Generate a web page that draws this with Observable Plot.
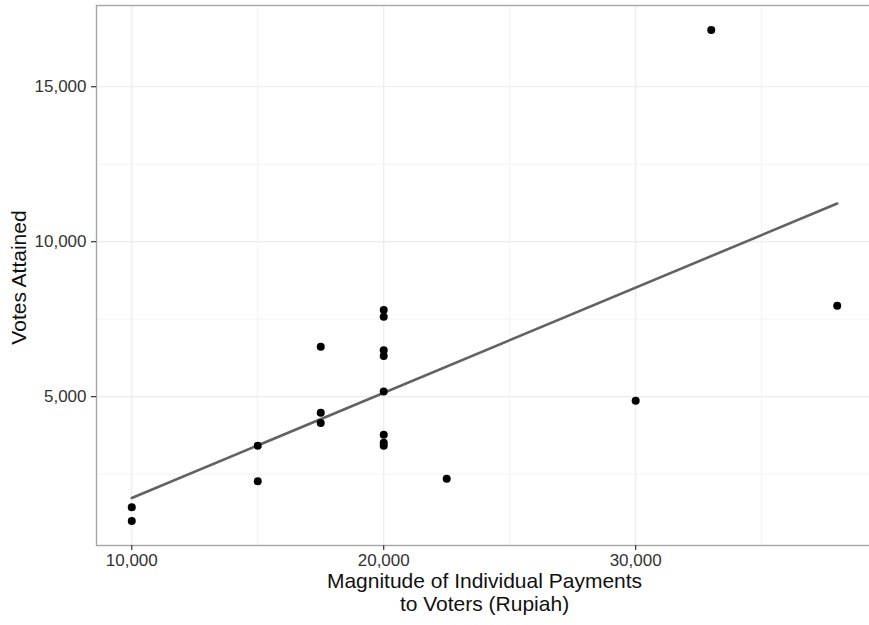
<!DOCTYPE html>
<html>
<head>
<meta charset="utf-8">
<script src="https://cdn.jsdelivr.net/npm/d3@7"></script>
<script src="https://cdn.jsdelivr.net/npm/@observablehq/plot@0.6"></script>
<style>
html, body { margin: 0; padding: 0; background: #fff; overflow: hidden; }
#chart { width: 869px; height: 625px; overflow: hidden; }
#chart svg { max-width: none !important; }
</style>
</head>
<body>
<div id="chart"></div>
<script>
// Data
const payments = [10000, 10000, 15000, 15000, 17500, 17500, 17500,
                  20000, 20000, 20000, 20000, 20000, 20000, 20000, 20000,
                  22500, 30000, 33000, 38000];
const votes = [1430, 990, 3420, 2270, 6610, 4480, 4150,
               7800, 7580, 6500, 6310, 5170, 3770, 3510, 3420,
               2350, 4870, 16830, 7930];

const xMajorTicks = [10000, 20000, 30000];
const xMinorTicks = [15000, 25000, 35000];
const yMajorTicks = [5000, 10000, 15000];
const yMinorTicks = [2500, 7500, 12500];

const xTitleLines = ["Magnitude of Individual Payments", "to Voters (Rupiah)"];
const yTitle = "Votes Attained";

const data = payments.map((p, i) => ({payment: p, votes: votes[i]}));
const fmt = d3.format(",");
const font = "'Liberation Sans', Arial, Helvetica, sans-serif";

const chart = Plot.plot({
  width: 872,
  height: 625,
  marginLeft: 96,
  marginRight: 0,
  marginTop: 5,
  marginBottom: 80,
  style: {fontFamily: font, background: "#fff", maxWidth: "none"},
  x: {domain: [8600, 39400]},
  y: {domain: [198, 17621]},
  marks: [
    Plot.gridX(xMinorTicks, {stroke: "#f3f3f3", strokeOpacity: 1, strokeWidth: 1}),
    Plot.gridY(yMinorTicks, {stroke: "#f3f3f3", strokeOpacity: 1, strokeWidth: 1}),
    Plot.gridX(xMajorTicks, {stroke: "#ebebeb", strokeOpacity: 1, strokeWidth: 1.2}),
    Plot.gridY(yMajorTicks, {stroke: "#ebebeb", strokeOpacity: 1, strokeWidth: 1.2}),
    Plot.frame({stroke: "#a6a6a6", strokeWidth: 1.4}),
    Plot.linearRegressionY(data, {x: "payment", y: "votes", stroke: "#626262", strokeWidth: 2.6, ci: 0}),
    Plot.dot(data, {x: "payment", y: "votes", r: 4, fill: "#000", stroke: null}),
    Plot.axisX(xMajorTicks, {tickFormat: fmt, tickSize: 5, tickPadding: 3, fontSize: 17, color: "#333", strokeWidth: 1.2, label: null}),
    Plot.axisY(yMajorTicks, {tickFormat: fmt, tickSize: 5, tickPadding: 5, fontSize: 17, color: "#333", strokeWidth: 1.2, label: null}),
    Plot.text([xTitleLines[0]], {frameAnchor: "bottom", dy: 42, fontSize: 21, fill: "#111", textAnchor: "middle"}),
    Plot.text([xTitleLines[1]], {frameAnchor: "bottom", dy: 65.5, fontSize: 21, fill: "#111", textAnchor: "middle"}),
    Plot.text([yTitle], {frameAnchor: "left", dx: -77.7, dy: 2, rotate: -90, fontSize: 21, fill: "#111", textAnchor: "middle"})
  ]
});
document.getElementById("chart").appendChild(chart);
</script>
</body>
</html>
